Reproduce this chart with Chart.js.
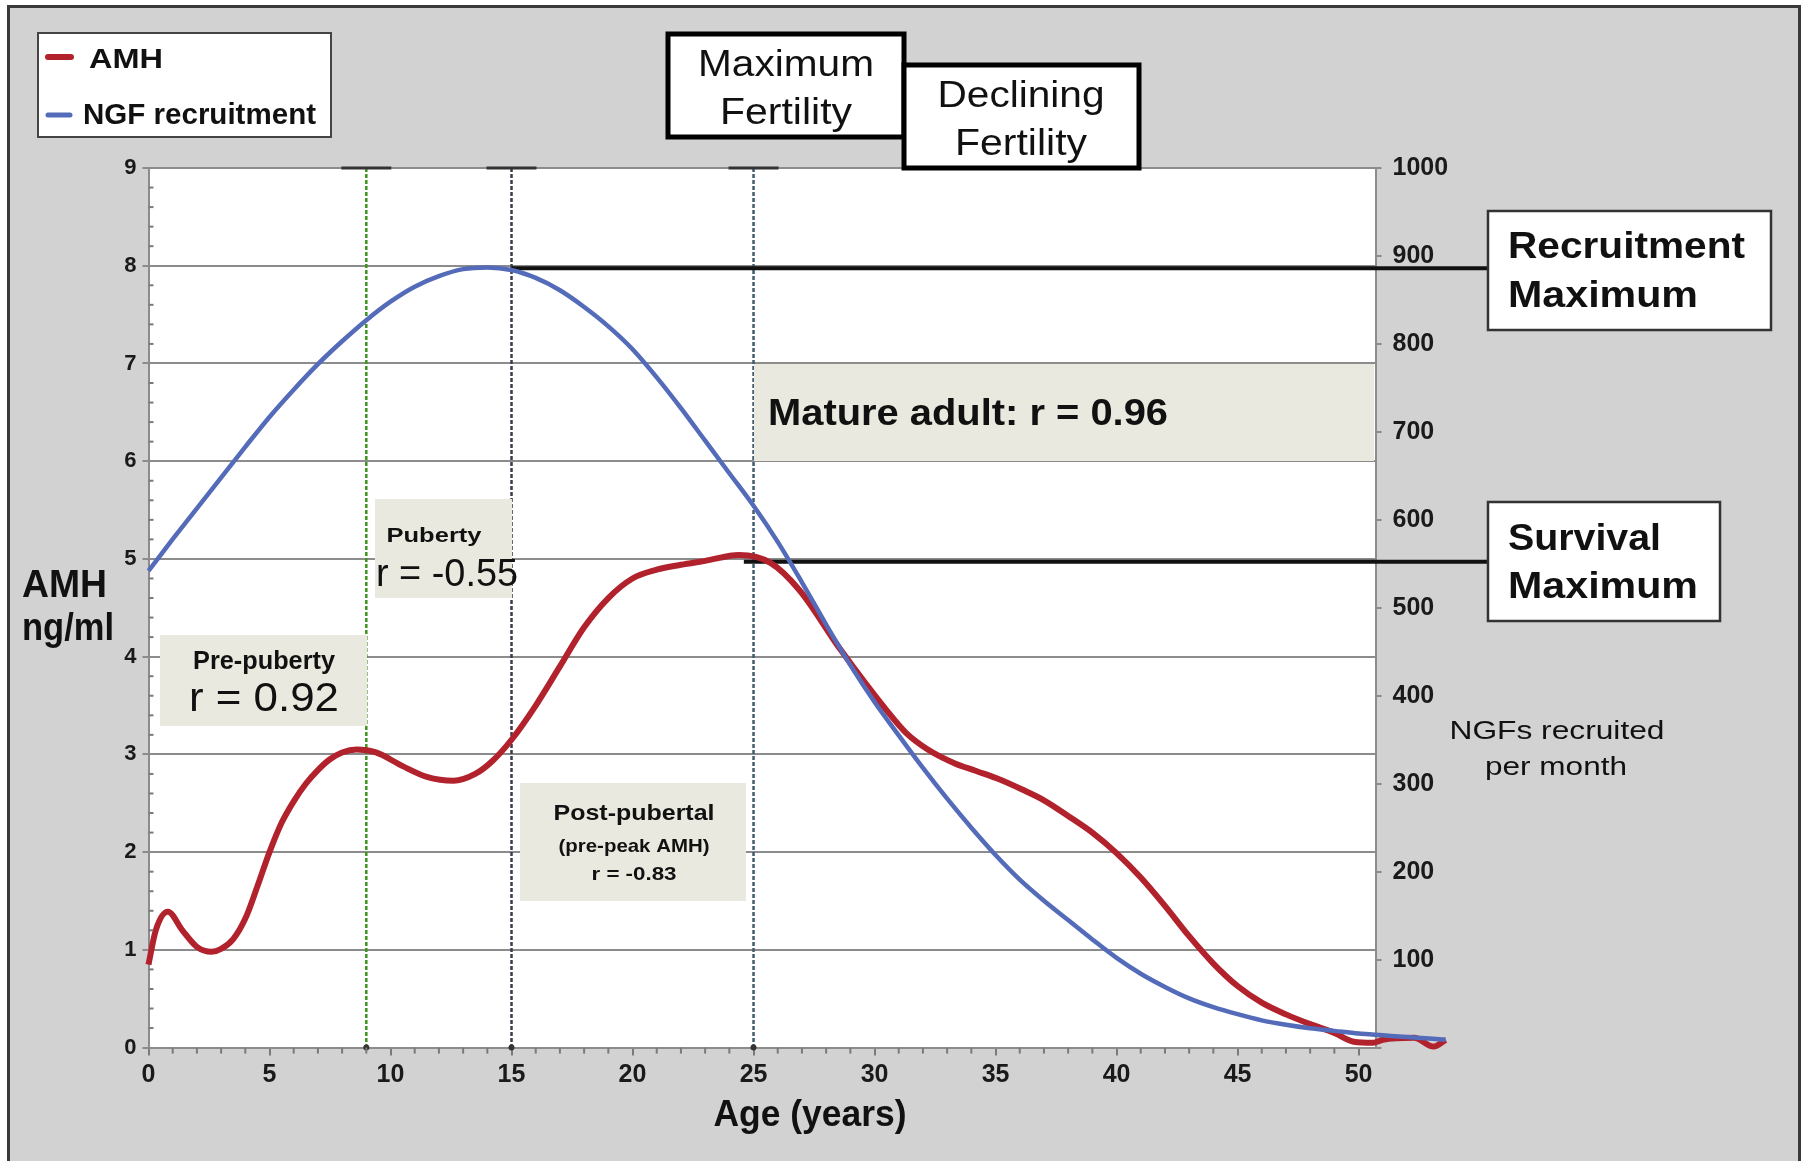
<!DOCTYPE html>
<html>
<head>
<meta charset="utf-8">
<title>AMH and NGF recruitment by age</title>
<script src="https://cdn.jsdelivr.net/npm/chart.js@4.4.1/dist/chart.umd.min.js"></script>
<style>
  html, body { margin: 0; padding: 0; background: #fff; }
  #wrap { width: 1805px; height: 1161px; }
</style>
</head>
<body>
<div id="wrap"><canvas id="chart" width="1805" height="1161"></canvas></div>
<script>
// AMH (ng/ml) against age in years
const amhAges = [0, 0.3, 0.8, 1.4, 2.0, 2.6, 3.0, 3.5, 4.0, 4.5, 5.0, 5.5, 6.0, 6.5, 7.0, 7.5, 8.0, 8.6, 9.4,
  10.5, 11.5, 12.6, 13.5, 14.2, 15, 16, 17, 18, 19, 20, 21, 22, 23, 24.4,
  25.7, 26.9, 28.6, 30.5, 31.3, 32.2, 33.3, 34.2, 35.2, 36.1, 37, 38, 39, 40, 41, 42, 43, 44,
  45, 46, 47, 48, 49, 49.8, 50.6, 51.0, 52.3, 53.1, 53.6];
const amhValues = [0.85, 1.2, 1.39, 1.2, 1.03, 0.98, 1.01, 1.11, 1.32, 1.65, 2.0, 2.3, 2.52, 2.7, 2.84, 2.95, 3.02, 3.05, 3.02,
  2.88, 2.77, 2.73, 2.8, 2.93, 3.15, 3.5, 3.9, 4.3, 4.6, 4.8, 4.89, 4.94, 4.98, 5.04,
  4.96, 4.68, 4.07, 3.45, 3.22, 3.05, 2.91, 2.83, 2.74, 2.64, 2.53, 2.37, 2.2, 1.99, 1.74, 1.45, 1.14, 0.86,
  0.63, 0.46, 0.34, 0.24, 0.15, 0.06, 0.05, 0.08, 0.1, 0.01, 0.08];

// non-growing follicles recruited per month against age
const ngfAges = [0, 1, 2, 3, 4, 5, 6, 7, 8, 9, 10, 11, 12, 13, 14, 15, 16, 17, 18, 19, 20,
  21, 22, 23, 24, 25, 26, 27, 28, 29, 30, 31, 32, 33, 34, 35, 36, 37, 38, 39, 40,
  41, 42, 43, 44, 45, 46, 47, 48, 49, 50, 51, 52, 53.6];
const ngfValues = [542, 578, 613, 648, 683, 717, 748, 777, 803, 827, 848, 865, 877, 885, 887, 884, 875, 861, 842, 820, 794,
  762, 727, 690, 653, 616, 575, 529, 481, 435, 393, 355, 318, 283, 250, 219, 191, 167, 145, 123, 102,
  84, 69, 56, 46, 38, 31, 26, 22, 19, 16, 14, 12, 9];

// end marker on the AMH trace
const dotAges = [51.6];
const dotValues = [0.05];

// axes
const xTicks = [0, 5, 10, 15, 20, 25, 30, 35, 40, 45, 50];
const xMax = 50.7;
const amhTicks = [0, 1, 2, 3, 4, 5, 6, 7, 8, 9];
const ngfTicks = [0, 100, 200, 300, 400, 500, 600, 700, 800, 900, 1000];

// phase boundaries (years) and their line colours
const phaseAges = [9, 15, 25];
const phaseColors = ['#3f931f', '#3d3d4d', '#3f5d6e'];

// reference levels
const recruitmentMaxNgf = 886;
const recruitmentFromAge = 15;
const survivalMaxAmh = 4.97;
const survivalFromAge = 24.6;

const RED = '#b2222c';
const BLUE = '#536bb9';
const NOTE_FILL = '#e9e9df';
const FONT = "'Liberation Sans', Arial, Helvetica, sans-serif";

Chart.defaults.font.family = FONT;
Chart.defaults.color = '#1a1a1a';

// draw text squeezed/stretched to a given width
function fillStretched(ctx, text, x, y, font, width, align) {
  ctx.save();
  ctx.font = font + ' ' + FONT;
  ctx.textBaseline = 'alphabetic';
  ctx.textAlign = 'left';
  const w = ctx.measureText(text).width;
  const sx = width ? width / w : 1;
  const x0 = align === 'center' ? x - w * sx / 2 : x;
  ctx.translate(x0, y);
  ctx.scale(sx, 1);
  ctx.fillStyle = '#111';
  ctx.fillText(text, 0, 0);
  ctx.restore();
}

function drawBox(ctx, b) {
  const [x, y, w, h] = b.rect;
  ctx.save();
  ctx.fillStyle = b.fill || '#fff';
  ctx.fillRect(x, y, w, h);
  if (b.stroke) {
    ctx.strokeStyle = b.stroke;
    ctx.lineWidth = b.lw;
    ctx.strokeRect(x, y, w, h);
  }
  ctx.restore();
  b.texts.forEach(t => fillStretched(ctx, t[0], t[1], t[2], t[3], t[4], t[5]));
}

const phaseNotes = [
  { rect: [160, 635, 207, 91], fill: NOTE_FILL, texts: [
    ['Pre-puberty', 264, 669, 'bold 26px', 142, 'center'],
    ['r = 0.92', 264, 711, '41px', 150, 'center']] },
  { rect: [375, 499, 137, 99], fill: NOTE_FILL, texts: [
    ['Puberty', 434, 542, 'bold 21px', 95, 'center'],
    ['r = -0.55', 376, 586, '38px', 142, 'left']] },
  { rect: [520, 783, 226, 118], fill: NOTE_FILL, texts: [
    ['Post-pubertal', 634, 820, 'bold 22px', 161, 'center'],
    ['(pre-peak AMH)', 634, 852, 'bold 19px', 151, 'center'],
    ['r = -0.83', 634, 880, 'bold 19px', 85, 'center']] },
  { rect: [754, 364, 620, 97], fill: NOTE_FILL, texts: [
    ['Mature adult: r = 0.96', 768, 425, 'bold 37px', 400, 'left']] }
];

const calloutBoxes = [
  { rect: [668, 34, 236, 103], stroke: '#000', lw: 5, texts: [
    ['Maximum', 786, 76, '36px', 176, 'center'],
    ['Fertility', 786, 124, '36px', 132, 'center']] },
  { rect: [904, 65, 235, 103], stroke: '#000', lw: 5, texts: [
    ['Declining', 1021, 107, '36px', 167, 'center'],
    ['Fertility', 1021, 155, '36px', 132, 'center']] },
  { rect: [1488, 211, 283, 119], stroke: '#333', lw: 2.5, texts: [
    ['Recruitment', 1508, 258, 'bold 36px', 237, 'left'],
    ['Maximum', 1508, 307, 'bold 36px', 190, 'left']] },
  { rect: [1488, 502, 232, 119], stroke: '#333', lw: 2.5, texts: [
    ['Survival', 1508, 550, 'bold 36px', 153, 'left'],
    ['Maximum', 1508, 598, 'bold 36px', 190, 'left']] }
];

const decorPlugin = {
  id: 'decor',
  beforeDraw(chart) {
    const { ctx, chartArea: a, width, height } = chart;
    ctx.save();
    ctx.fillStyle = '#fff';
    ctx.fillRect(0, 0, width, height);
    ctx.fillStyle = '#d2d2d2';
    ctx.fillRect(7, 5, 1794, height - 5);
    ctx.strokeStyle = '#3a3a3a';
    ctx.lineWidth = 3;
    ctx.strokeRect(8.5, 6.5, 1791, height);
    ctx.fillStyle = '#fff';
    ctx.fillRect(a.left, a.top, a.right - a.left, a.bottom - a.top);
    ctx.restore();
  },
  beforeDatasetsDraw(chart) {
    const { ctx, chartArea: a, scales } = chart;
    const xs = scales.x;
    ctx.save();
    // phase boundary lines with caps
    phaseAges.forEach((age, i) => {
      const px = xs.getPixelForValue(age);
      ctx.strokeStyle = phaseColors[i];
      ctx.lineWidth = 2.5;
      ctx.setLineDash([4, 2]);
      ctx.beginPath();
      ctx.moveTo(px, a.top);
      ctx.lineTo(px, a.bottom);
      ctx.stroke();
      ctx.setLineDash([]);
      ctx.strokeStyle = '#333';
      ctx.lineWidth = 3;
      ctx.beginPath();
      ctx.moveTo(px - 25, a.top);
      ctx.lineTo(px + 25, a.top);
      ctx.stroke();
      ctx.fillStyle = '#333';
      ctx.beginPath();
      ctx.arc(px, a.bottom, 3, 0, Math.PI * 2);
      ctx.fill();
    });
    ctx.restore();
    phaseNotes.forEach(b => drawBox(ctx, b));
    // reference level lines out to the callouts
    ctx.save();
    ctx.strokeStyle = '#111';
    ctx.lineWidth = 4;
    const yr = scales.y1.getPixelForValue(recruitmentMaxNgf);
    ctx.beginPath();
    ctx.moveTo(xs.getPixelForValue(recruitmentFromAge), yr);
    ctx.lineTo(1488, yr);
    ctx.stroke();
    const ys = scales.y.getPixelForValue(survivalMaxAmh);
    ctx.beginPath();
    ctx.moveTo(xs.getPixelForValue(survivalFromAge), ys);
    ctx.lineTo(1488, ys);
    ctx.stroke();
    ctx.restore();
  },
  afterDraw(chart) {
    const { ctx, chartArea: a, scales } = chart;
    ctx.save();
    // minor ticks
    ctx.strokeStyle = '#7a7a7a';
    ctx.lineWidth = 2;
    for (let v = 1; v < 45; v++) {
      if (v % 5 === 0) continue;
      const py = scales.y.getPixelForValue(v / 5);
      ctx.beginPath();
      ctx.moveTo(a.left, py);
      ctx.lineTo(a.left + 5, py);
      ctx.stroke();
    }
    for (let v = 1; v <= 50; v++) {
      if (v % 5 === 0) continue;
      const px = scales.x.getPixelForValue(v);
      ctx.beginPath();
      ctx.moveTo(px, a.bottom);
      ctx.lineTo(px, a.bottom + 6);
      ctx.stroke();
    }
    ctx.restore();

    // legend
    const ds = chart.data.datasets;
    ctx.save();
    ctx.fillStyle = '#fff';
    ctx.fillRect(38, 33, 293, 104);
    ctx.strokeStyle = '#444';
    ctx.lineWidth = 2;
    ctx.strokeRect(38, 33, 293, 104);
    ctx.lineCap = 'round';
    ctx.strokeStyle = ds[0].borderColor;
    ctx.lineWidth = 6;
    ctx.beginPath(); ctx.moveTo(48, 57); ctx.lineTo(71, 57); ctx.stroke();
    ctx.strokeStyle = ds[1].borderColor;
    ctx.lineWidth = 5;
    ctx.beginPath(); ctx.moveTo(48, 115); ctx.lineTo(70, 115); ctx.stroke();
    ctx.restore();
    fillStretched(ctx, ds[0].label, 89, 68, 'bold 28px', 74, 'left');
    fillStretched(ctx, ds[1].label, 83, 124, 'bold 29px', 233, 'left');

    calloutBoxes.forEach(b => drawBox(ctx, b));

    // axis titles
    fillStretched(ctx, 'AMH', 22, 597, 'bold 38px', 85, 'left');
    fillStretched(ctx, 'ng/ml', 22, 640, 'bold 38px', 92, 'left');
    fillStretched(ctx, 'Age (years)', 810, 1126, 'bold 37px', 193, 'center');
    fillStretched(ctx, 'NGFs recruited', 1557, 739, '26px', 215, 'center');
    fillStretched(ctx, 'per month', 1556, 775, '26px', 142, 'center');
  }
};

const toPoints = (xs, ys) => xs.map((x, i) => ({ x: x, y: ys[i] }));

new Chart(document.getElementById('chart'), {
  type: 'line',
  data: {
    datasets: [
      {
        label: 'AMH',
        data: toPoints(amhAges, amhValues),
        yAxisID: 'y',
        borderColor: RED,
        borderWidth: 6,
        pointRadius: 0,
        cubicInterpolationMode: 'monotone',
        clip: false,
        order: 2
      },
      {
        label: 'NGF recruitment',
        data: toPoints(ngfAges, ngfValues),
        yAxisID: 'y1',
        borderColor: BLUE,
        borderWidth: 4.5,
        pointRadius: 0,
        cubicInterpolationMode: 'monotone',
        clip: false,
        order: 1
      },
      {
        label: 'end',
        data: toPoints(dotAges, dotValues),
        yAxisID: 'y',
        showLine: false,
        pointRadius: 4.5,
        pointBackgroundColor: '#000',
        pointBorderColor: '#000',
        clip: false,
        order: 0
      }
    ]
  },
  options: {
    responsive: false,
    animation: false,
    devicePixelRatio: 1,
    layout: { padding: { top: 168, left: 0, right: 0, bottom: 0 } },
    plugins: { legend: { display: false }, tooltip: { enabled: false } },
    scales: {
      x: {
        type: 'linear',
        bounds: 'data',
        min: 0,
        afterDataLimits(s) { s.max = xMax; },
        afterBuildTicks(s) { s.ticks = xTicks.map(v => ({ value: v })); },
        afterFit(s) { s.height = 1161 - 1047.6; },
        grid: { drawOnChartArea: false, tickLength: 8, color: '#7a7a7a', lineWidth: 2 },
        border: { display: true, color: '#8c8c8c', width: 2 },
        ticks: { padding: 5, autoSkip: false, maxRotation: 0, font: { size: 25, weight: 'bold' }, color: '#1a1a1a' }
      },
      y: {
        position: 'left',
        min: 0,
        max: 9,
        afterBuildTicks(s) { s.ticks = amhTicks.map(v => ({ value: v })); },
        afterFit(s) { s.width = 148.5; },
        grid: { color: '#8c8c8c', lineWidth: 2, tickLength: 6, tickColor: '#8c8c8c' },
        border: { display: true, color: '#8c8c8c', width: 2 },
        ticks: { padding: 6, font: { size: 22, weight: 'bold' }, color: '#1a1a1a' }
      },
      y1: {
        position: 'right',
        min: 0,
        max: 1000,
        afterBuildTicks(s) { s.ticks = ngfTicks.map(v => ({ value: v })); },
        afterFit(s) { s.width = 1805 - 1375.5; },
        grid: { drawOnChartArea: false, tickLength: 6, color: '#8c8c8c', lineWidth: 2 },
        border: { display: true, color: '#8c8c8c', width: 2 },
        ticks: {
          padding: 11,
          font: { size: 25, weight: 'bold' },
          color: '#1a1a1a',
          callback: v => (v === 0 ? '' : v)
        }
      }
    }
  },
  plugins: [decorPlugin]
});
</script>
</body>
</html>
